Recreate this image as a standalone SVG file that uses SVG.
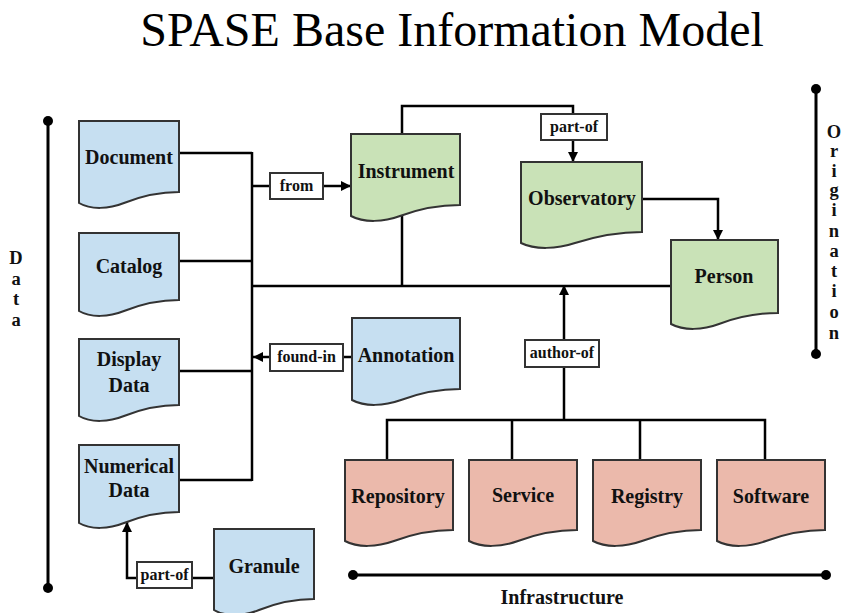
<svg xmlns="http://www.w3.org/2000/svg" width="844" height="613" viewBox="0 0 844 613">
<defs>
<marker id="arr" viewBox="0 0 10 10" refX="10" refY="5" markerWidth="10" markerHeight="10" markerUnits="userSpaceOnUse" orient="auto"><path d="M0,0 L10,5 L0,10 Z" fill="#000"/></marker>
<style>
.doc{stroke:#333;stroke-width:2;stroke-linejoin:miter}
.blue{fill:#c6dff1}
.green{fill:#c9e2b7}
.pink{fill:#ebb9ab}
.nt{font-family:"Liberation Serif","Times New Roman",serif;font-weight:bold;font-size:20px;fill:#111;text-anchor:middle}
.vt{font-family:"Liberation Serif","Times New Roman",serif;font-weight:bold;font-size:18.5px;fill:#111;text-anchor:middle}
.lt{font-family:"Liberation Serif","Times New Roman",serif;font-weight:bold;font-size:16px;fill:#111;text-anchor:middle}
.lbox{fill:#fff;stroke:#333;stroke-width:2}
.ln{fill:none;stroke:#000;stroke-width:2.5}
.ax{fill:none;stroke:#000;stroke-width:3}
.title{font-family:"Liberation Serif","Times New Roman",serif;font-size:48px;fill:#000;text-anchor:middle}
</style>
</defs>
<rect width="844" height="613" fill="#fff"/>
<text class="title" x="452" y="46">SPASE Base Information Model</text>

<g id="connectors">
<path class="ln" d="M179,153 H252 M179,261 H252 M179,371 H252 M179,480 H252 M252,152 V481"/>
<path class="ln" d="M252,186 H270"/>
<path class="ln" d="M323,186 H351" marker-end="url(#arr)"/>
<path class="ln" d="M252,286 H671"/>
<path class="ln" d="M402,215 V286"/>
<path class="ln" d="M402,134 V106 H573 V114"/>
<path class="ln" d="M573,140 V162" marker-end="url(#arr)"/>
<path class="ln" d="M642,199 H718 V240" marker-end="url(#arr)"/>
<path class="ln" d="M352,357 H343"/>
<path class="ln" d="M270,357 H253" marker-end="url(#arr)"/>
<path class="ln" d="M564,420 V367"/>
<path class="ln" d="M564,340 V285" marker-end="url(#arr)"/>
<path class="ln" d="M387,460 V420 H765 V460 M512,420 V460 M640,420 V460"/>
<path class="ln" d="M214,578 H192"/>
<path class="ln" d="M137,578 H127 V522" marker-end="url(#arr)"/>
</g>

<g id="label-from"><rect class="lbox" x="270" y="173" width="53" height="26"/><text class="lt" x="296.5" y="191">from</text></g>
<g id="label-partof-top"><rect class="lbox" x="541" y="114" width="66" height="26"/><text class="lt" x="574" y="132">part-of</text></g>
<g id="label-foundin"><rect class="lbox" x="270" y="344" width="73" height="27"/><text class="lt" x="306.5" y="362">found-in</text></g>
<g id="label-authorof"><rect class="lbox" x="525" y="340" width="74" height="27"/><text class="lt" x="562" y="358">author-of</text></g>
<g id="label-partof-bottom"><rect class="lbox" x="137" y="562" width="55" height="26"/><text class="lt" x="164.5" y="580">part-of</text></g>

<g id="document"><path class="doc blue" d="M79,121 H179 V192 C159,192 139,197 124,203 C109,209 91,210 79,203 Z"/><text class="nt" x="129" y="164">Document</text></g>
<g id="catalog"><path class="doc blue" d="M79,233 H179 V300 C159,300 139,305 124,311 C109,317 91,318 79,311 Z"/><text class="nt" x="129" y="273">Catalog</text></g>
<g id="display-data"><path class="doc blue" d="M79,339 H179 V405 C159,405 139,410 124,416 C109,422 91,423 79,416 Z"/><text class="nt" x="129" y="366">Display</text><text class="nt" x="129" y="392">Data</text></g>
<g id="numerical-data"><path class="doc blue" d="M79,445 H179 V512 C159,512 139,517 124,523 C109,529 91,530 79,523 Z"/><text class="nt" x="129" y="473">Numerical</text><text class="nt" x="129" y="497">Data</text></g>
<g id="granule"><path class="doc blue" d="M214,529 H314 V599 C294,599 274,604 259,610 C244,616 226,617 214,610 Z"/><text class="nt" x="264" y="573">Granule</text></g>
<g id="instrument"><path class="doc green" d="M351,134 H460 V205 C438,205 416,210 400,216 C384,222 364,223 351,216 Z"/><text class="nt" x="406" y="178">Instrument</text></g>
<g id="observatory"><path class="doc green" d="M521,162 H642 V232 C618,232 594,237 575,243 C557,249 535,250 521,243 Z"/><text class="nt" x="582" y="205">Observatory</text></g>
<g id="person"><path class="doc green" d="M671,240 H778 V313 C757,313 735,318 719,324 C703,330 684,331 671,324 Z"/><text class="nt" x="724" y="283">Person</text></g>
<g id="annotation"><path class="doc blue" d="M352,318 H460 V389 C438,389 417,394 401,400 C384,406 365,407 352,400 Z"/><text class="nt" x="406" y="362">Annotation</text></g>
<g id="repository"><path class="doc pink" d="M345,460 H453 V530 C431,530 410,535 394,541 C377,547 358,548 345,541 Z"/><text class="nt" x="398" y="503">Repository</text></g>
<g id="service"><path class="doc pink" d="M469,460 H577 V530 C555,530 534,535 518,541 C501,547 482,548 469,541 Z"/><text class="nt" x="523" y="502">Service</text></g>
<g id="registry"><path class="doc pink" d="M593,460 H701 V530 C679,530 658,535 642,541 C625,547 606,548 593,541 Z"/><text class="nt" x="647" y="503">Registry</text></g>
<g id="software"><path class="doc pink" d="M717,460 H825 V530 C803,530 782,535 766,541 C749,547 730,548 717,541 Z"/><text class="nt" x="771" y="503">Software</text></g>

<g id="axis-data">
<path class="ax" d="M48,121 V588"/><circle cx="48" cy="121" r="5"/><circle cx="48" cy="588" r="5"/>
<text class="vt" x="16" y="264">D</text><text class="vt" x="16" y="285">a</text><text class="vt" x="16" y="305">t</text><text class="vt" x="16" y="326">a</text>
</g>
<g id="axis-origination">
<path class="ax" d="M816,89 V354"/><circle cx="816" cy="89" r="5"/><circle cx="816" cy="354" r="5"/>
<text class="vt" x="834" y="138">O</text><text class="vt" x="834" y="157">r</text><text class="vt" x="834" y="177">i</text><text class="vt" x="834" y="196">g</text><text class="vt" x="834" y="216">i</text><text class="vt" x="834" y="237">n</text><text class="vt" x="834" y="257">a</text><text class="vt" x="834" y="277">t</text><text class="vt" x="834" y="297">i</text><text class="vt" x="834" y="318">o</text><text class="vt" x="834" y="339">n</text>
</g>
<g id="axis-infrastructure">
<path class="ax" d="M353,575 H826"/><circle cx="353" cy="575" r="5"/><circle cx="826" cy="575" r="5"/>
<text class="nt" x="562" y="604">Infrastructure</text>
</g>
</svg>
